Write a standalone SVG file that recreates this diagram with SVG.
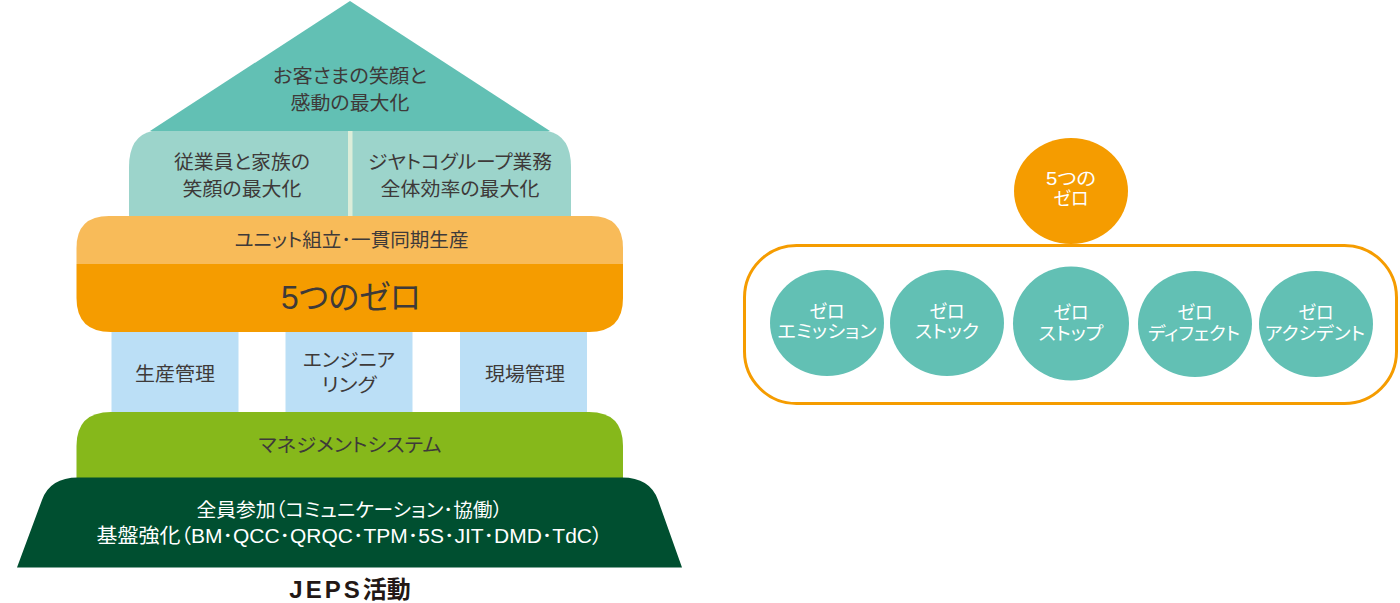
<svg xmlns="http://www.w3.org/2000/svg" width="1400" height="603" viewBox="0 0 1400 603">
<style>
text{font-family:"Liberation Sans","Noto Sans CJK JP",sans-serif;text-anchor:middle;font-size:19px;fill:#3e3a39;font-weight:400;font-feature-settings:"palt"}
.w{fill:#fff}
.t{fill:#62c0b4}
.s{font-size:18px}
.b{fill:#bbdff6}
</style>
<rect width="1400" height="603" fill="#fff"/>
<g id="roof"><path d="M350 1L550 131H150Z" class="t"/><text x="350" y="83" textLength="154" lengthAdjust="spacingAndGlyphs">お客さまの笑顔と</text><text x="350" y="110" textLength="119" lengthAdjust="spacingAndGlyphs">感動の最大化</text></g>
<g id="middle">
<path d="M129 216V167Q129 136 152 131H548Q571 136 571 167V216Z" fill="#9cd4cb"/>
<rect x="348" y="131" width="4.500" height="85" fill="#dcedd9"/>
<text x="242" y="169" textLength="136" lengthAdjust="spacingAndGlyphs">従業員と家族の</text><text x="242" y="196" textLength="119" lengthAdjust="spacingAndGlyphs">笑顔の最大化</text>
<text x="460" y="169" textLength="184" lengthAdjust="spacingAndGlyphs">ジヤトコグループ業務</text><text x="460" y="196" textLength="159" lengthAdjust="spacingAndGlyphs">全体効率の最大化</text></g>
<g id="unit"><path d="M76.500 264V248Q76.500 216 109 216H591Q623 216 623 248V264Z" fill="#f8bb59"/><text x="351.500" y="247" textLength="234" lengthAdjust="spacingAndGlyphs">ユニット組立･一貫同期生産</text></g>
<g id="zero"><path d="M76.500 264H623V298Q623 332 589 332H111Q76.500 332 76.500 298Z" fill="#f59c00"/><text x="351" y="309" style="font-size:33px" textLength="140" lengthAdjust="spacingAndGlyphs">5つのゼロ</text></g>
<g id="p1"><rect x="111.500" y="332" width="127" height="80" class="b"/><text x="175" y="381" textLength="80" lengthAdjust="spacingAndGlyphs">生産管理</text></g>
<g id="p2"><rect x="285.500" y="332" width="127" height="80" class="b"/><text x="349" y="367" textLength="92" lengthAdjust="spacingAndGlyphs">エンジニア</text><text x="349" y="392" textLength="55" lengthAdjust="spacingAndGlyphs">リング</text></g>
<g id="p3"><rect x="460" y="332" width="127" height="80" class="b"/><text x="525" y="381" textLength="80" lengthAdjust="spacingAndGlyphs">現場管理</text></g>
<g id="mgmt"><path d="M76.500 478V446Q76.500 412 111 412H589Q623 412 623 446V478Z" fill="#86b81b"/><text x="350" y="452" textLength="183" lengthAdjust="spacingAndGlyphs">マネジメントシステム</text></g>
<g id="base"><path d="M17 567.500L42 500Q50 477.500 78 477.500H622Q650 477.500 658 500L682 567.500Z" fill="#004f30"/>
<text class="w" x="349.500" y="517" textLength="306" lengthAdjust="spacingAndGlyphs">全員参加（コミュニケーション･協働）</text>
<text class="w" x="349.500" y="543" style="font-size:20px" textLength="506" lengthAdjust="spacingAndGlyphs">基盤強化（BM･QCC･QRQC･TPM･5S･JIT･DMD･TdC）</text></g>
<g id="caption"><text x="350" y="598" style="font-size:24px;font-weight:700;fill:#231815"><tspan letter-spacing="3">JEPS</tspan>活動</text></g>
<g id="connectors"></g>
<g id="frame"><rect x="744.500" y="245.500" width="652" height="158" rx="52" fill="#fff" stroke="#f59c00" stroke-width="3"/></g>
<g id="top"><ellipse cx="1071" cy="191" rx="57" ry="53" fill="#f59c00"/><text class="w s" x="1071" y="185" textLength="50" lengthAdjust="spacingAndGlyphs">5つの</text><text class="w s" x="1071" y="205" textLength="35" lengthAdjust="spacingAndGlyphs">ゼロ</text></g>
<g id="z1"><ellipse cx="827" cy="323" rx="57" ry="53" class="t"/><text class="w s" x="827" y="318" textLength="35" lengthAdjust="spacingAndGlyphs">ゼロ</text><text class="w s" x="827" y="338" textLength="99" lengthAdjust="spacingAndGlyphs">エミッション</text></g>
<g id="z2"><ellipse cx="947" cy="323" rx="57" ry="53" class="t"/><text class="w s" x="947" y="318" textLength="35" lengthAdjust="spacingAndGlyphs">ゼロ</text><text class="w s" x="947" y="338" textLength="64" lengthAdjust="spacingAndGlyphs">ストック</text></g>
<g id="z3"><ellipse cx="1071" cy="323.500" rx="58" ry="57" class="t"/><text class="w s" x="1071" y="319" textLength="35" lengthAdjust="spacingAndGlyphs">ゼロ</text><text class="w s" x="1071" y="340" textLength="65" lengthAdjust="spacingAndGlyphs">ストップ</text></g>
<g id="z4"><ellipse cx="1195" cy="324" rx="57" ry="53" class="t"/><text class="w s" x="1195" y="319" textLength="35" lengthAdjust="spacingAndGlyphs">ゼロ</text><text class="w s" x="1194" y="340" textLength="92" lengthAdjust="spacingAndGlyphs">ディフェクト</text></g>
<g id="z5"><ellipse cx="1316" cy="324" rx="57" ry="53" class="t"/><text class="w s" x="1316" y="319" textLength="35" lengthAdjust="spacingAndGlyphs">ゼロ</text><text class="w s" x="1315" y="340" textLength="100" lengthAdjust="spacingAndGlyphs">アクシデント</text></g>
</svg>
